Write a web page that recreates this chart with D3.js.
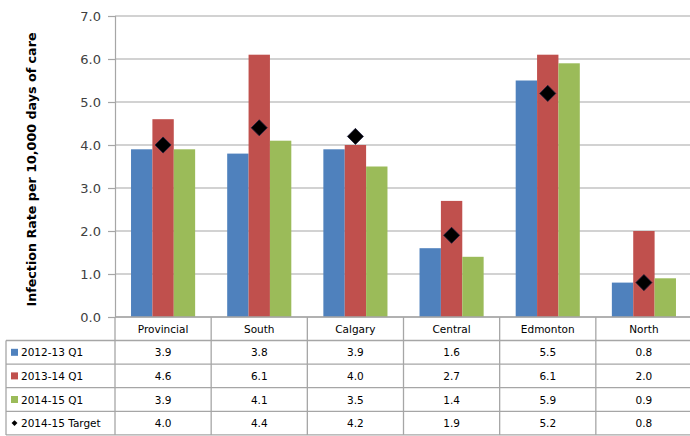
<!DOCTYPE html>
<html>
<head>
<meta charset="utf-8">
<script src="https://cdn.jsdelivr.net/npm/d3@7"></script>
<style>
  html, body { margin: 0; padding: 0; background: #fff; }
  svg { display: block; }
  text { font-family: "DejaVu Sans", Verdana, sans-serif; }
</style>
</head>
<body>
<svg id="chart" width="690" height="436"></svg>
<script>
// Zones and quarterly infection rates (per 10,000 days of care)
const categories = ["Provincial", "South", "Calgary", "Central", "Edmonton", "North"];
const seriesNames = ["2012-13 Q1", "2013-14 Q1", "2014-15 Q1"];
const rate2012 = [3.9, 3.8, 3.9, 1.6, 5.5, 0.8];
const rate2013 = [4.6, 6.1, 4.0, 2.7, 6.1, 2.0];
const rate2014 = [3.9, 4.1, 3.5, 1.4, 5.9, 0.9];
const targetName = "2014-15 Target";
const target2015 = [4.0, 4.4, 4.2, 1.9, 5.2, 0.8];
const yTicks = [0, 1, 2, 3, 4, 5, 6, 7];
const yTitle = "Infection Rate per 10,000 days of care";

const seriesValues = [rate2012, rate2013, rate2014];
const colors = ["#4F81BD", "#C0504D", "#9BBB59"];

const svg = d3.select("#chart");

const plotLeft = 115, plotRight = 692, plotTop = 16, plotBottom = 317;
const tableLeft = 6;
const rowH = 23.6;
const tableRows = [317, 340.5];
for (let i = 1; i <= 4; i++) tableRows.push(340.5 + i * rowH);

const x0 = d3.scaleBand().domain(categories).range([plotLeft, plotRight]).paddingInner(0).paddingOuter(0);
const x1 = d3.scaleBand().domain(seriesNames).range([0, x0.bandwidth()]).paddingInner(0).paddingOuter(0.75);
const y = d3.scaleLinear().domain([0, 7]).range([plotBottom, plotTop]);

const gridColor = "#a6a6a6";

// Horizontal gridlines
svg.append("g").selectAll("line").data(yTicks).join("line")
  .attr("x1", plotLeft).attr("x2", plotRight)
  .attr("y1", d => y(d)).attr("y2", d => y(d))
  .attr("stroke", gridColor).attr("stroke-width", 1.2);

// Y axis
const yAxis = d3.axisLeft(y).tickValues(yTicks).tickFormat(d3.format(".1f")).tickSize(7).tickPadding(7);
const gy = svg.append("g").attr("transform", `translate(${plotLeft},0)`).call(yAxis);
gy.select(".domain").attr("stroke", gridColor).attr("stroke-width", 1.2);
gy.selectAll(".tick line").attr("stroke", gridColor).attr("stroke-width", 1.2);
gy.selectAll(".tick text").attr("fill", "#404040").style("font-size", "13px")
  .style("font-family", "\"DejaVu Sans\", sans-serif");

// Y axis title
svg.append("text")
  .attr("transform", `translate(36,${(plotTop + plotBottom) / 2 + 3}) rotate(-90)`)
  .attr("text-anchor", "middle")
  .attr("textLength", 274).attr("lengthAdjust", "spacingAndGlyphs")
  .style("font-size", "12px").style("font-weight", "bold").attr("fill", "#000")
  .text(yTitle);

// Bars
const groups = svg.append("g").selectAll("g").data(categories).join("g")
  .attr("transform", d => `translate(${x0(d)},0)`);
groups.selectAll("rect")
  .data((c, i) => seriesNames.map((s, k) => ({ s, k, v: seriesValues[k][i] })))
  .join("rect")
  .attr("x", d => x1(d.s))
  .attr("width", x1.bandwidth())
  .attr("y", d => y(d.v))
  .attr("height", d => y(0) - y(d.v))
  .attr("fill", d => colors[d.k]);

// Target markers
const diamond = d3.symbol().type(d3.symbolDiamond2).size(165);
svg.append("g").selectAll("path").data(categories).join("path")
  .attr("d", diamond)
  .attr("transform", (c, i) => `translate(${x0(c) + x0.bandwidth() / 2},${y(target2015[i])})`)
  .attr("fill", "#000").attr("stroke", "#1f1f3f").attr("stroke-width", 0.8);

// Data table
const table = svg.append("g");
const lineAttr = sel => sel.attr("stroke", gridColor).attr("stroke-width", 1.3);

// horizontal rules
tableRows.forEach((ry, r) => {
  table.append("line").call(lineAttr)
    .attr("x1", r === 0 ? plotLeft : tableLeft).attr("x2", plotRight)
    .attr("y1", ry).attr("y2", ry);
});
// vertical rules
const vx = categories.map(c => x0(c)).concat([plotRight]);
vx.forEach(vxx => {
  table.append("line").call(lineAttr)
    .attr("x1", vxx).attr("x2", vxx)
    .attr("y1", tableRows[0]).attr("y2", tableRows[tableRows.length - 1]);
});
table.append("line").call(lineAttr)
  .attr("x1", tableLeft).attr("x2", tableLeft)
  .attr("y1", tableRows[1]).attr("y2", tableRows[tableRows.length - 1]);

// header labels
table.selectAll("text.cat").data(categories).join("text").attr("class", "cat")
  .attr("x", c => x0(c) + x0.bandwidth() / 2)
  .attr("y", (tableRows[0] + tableRows[1]) / 2 + 4)
  .attr("text-anchor", "middle").style("font-size", "10.5px").attr("fill", "#000")
  .text(c => c);

// rows
const rowData = [rate2012, rate2013, rate2014, target2015];
const rowNames = seriesNames.concat([targetName]);
rowData.forEach((vals, r) => {
  const cy = (tableRows[r + 1] + tableRows[r + 2]) / 2;
  table.selectAll(`text.v${r}`).data(vals).join("text").attr("class", `v${r}`)
    .attr("x", (v, i) => x0(categories[i]) + x0.bandwidth() / 2)
    .attr("y", cy + 4)
    .attr("text-anchor", "middle").style("font-size", "10.5px").attr("fill", "#000")
    .text(v => d3.format(".1f")(v));
  if (r < 3) {
    table.append("rect").attr("x", 11).attr("y", cy - 3.5).attr("width", 7).attr("height", 7)
      .attr("fill", colors[r]);
  } else {
    table.append("path").attr("d", d3.symbol().type(d3.symbolDiamond2).size(22))
      .attr("transform", `translate(14.5,${cy})`).attr("fill", "#000");
  }
  table.append("text").attr("x", 21).attr("y", cy + 4)
    .style("font-size", "10.5px").attr("fill", "#000").text(rowNames[r]);
});
</script>
</body>
</html>
